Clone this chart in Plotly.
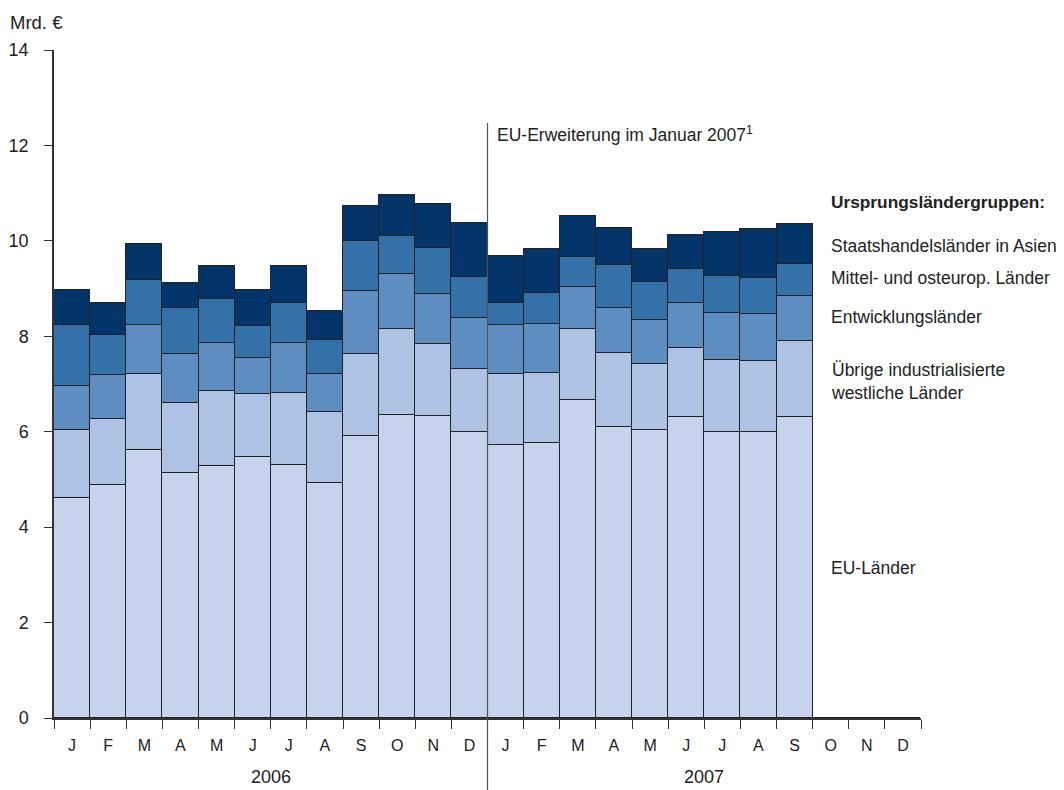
import plotly.graph_objects as go

months = ["J", "F", "M", "A", "M", "J", "J", "A", "S", "O", "N", "D",
          "J", "F", "M", "A", "M", "J", "J", "A", "S", "O", "N", "D"]
years = ["2006", "2007"]

eu_laender = [4.62, 4.88, 5.62, 5.13, 5.29, 5.48, 5.31, 4.93, 5.90, 6.35, 6.32, 5.99,
              5.72, 5.76, 6.66, 6.10, 6.04, 6.31, 6.00, 6.00, 6.31, 0, 0, 0]
uebrige = [1.42, 1.39, 1.60, 1.47, 1.57, 1.31, 1.51, 1.48, 1.72, 1.81, 1.51, 1.33,
           1.49, 1.47, 1.50, 1.56, 1.38, 1.45, 1.50, 1.49, 1.60, 0, 0, 0]
entwicklung = [0.92, 0.91, 1.01, 1.02, 0.99, 0.76, 1.04, 0.80, 1.33, 1.15, 1.05, 1.07,
               1.03, 1.02, 0.87, 0.93, 0.92, 0.93, 0.99, 0.98, 0.94, 0, 0, 0]
mittel_ost = [1.28, 0.85, 0.95, 0.97, 0.94, 0.67, 0.83, 0.71, 1.04, 0.79, 0.97, 0.86,
              0.45, 0.65, 0.63, 0.91, 0.79, 0.72, 0.77, 0.76, 0.67, 0, 0, 0]
asien = [0.72, 0.66, 0.76, 0.52, 0.69, 0.75, 0.79, 0.61, 0.75, 0.86, 0.93, 1.13,
         1.00, 0.93, 0.87, 0.77, 0.69, 0.72, 0.92, 1.01, 0.84, 0, 0, 0]

series_names = ["EU-Länder", "Übrige industrialisierte<br>westliche Länder",
                "Entwicklungsländer", "Mittel- und osteurop. Länder",
                "Staatshandelsländer in Asien"]
series_values = [eu_laender, uebrige, entwicklung, mittel_ost, asien]
colors = ["#C5D3EC", "#AEC3E3", "#5E8DC2", "#3371A8", "#03356A"]
legend_ypx = [568, 381, 317, 278, 246]

FONT = "Liberation Sans, Arial, sans-serif"
TXT = "#222222"

# page body has an 8px margin; work in reference-pixel coordinates
OFF = 8
W, H = 1064 - OFF, 790 - OFF
L, T = 54 - OFF, 50 - OFF
plot_w, plot_h = 867, 668
R = W - L - plot_w
B = H - T - plot_h

x = list(range(len(months)))

fig = go.Figure()
for name, vals, col in zip(series_names, series_values, colors):
    fig.add_trace(go.Bar(
        x=x, y=vals, name=name,
        marker=dict(color=col, line=dict(color="#222222", width=1.4)),
        width=1.0, hoverinfo="y+name"
    ))

def ypaper(py):
    return (718 - py) / plot_h

def xpaper(px):
    return (px - 54) / plot_w

annotations = []
for name, py in zip(series_names, legend_ypx):
    annotations.append(dict(x=xpaper(829), y=ypaper(py), xref="paper", yref="paper",
                            text=name, showarrow=False, xanchor="left", yanchor="middle",
                            align="left", font=dict(family=FONT, size=17.5, color=TXT)))
annotations.append(dict(x=xpaper(829), y=ypaper(202), xref="paper", yref="paper",
                        text="<b>Ursprungsländergruppen:</b>", showarrow=False,
                        xanchor="left", yanchor="middle",
                        font=dict(family=FONT, size=17.3, color=TXT)))
annotations.append(dict(x=xpaper(495), y=ypaper(134), xref="paper", yref="paper",
                        text="EU-Erweiterung im Januar 2007<sup>1</sup>", showarrow=False,
                        xanchor="left", yanchor="middle",
                        font=dict(family=FONT, size=17.5, color=TXT)))
annotations.append(dict(x=xpaper(8), y=ypaper(22), xref="paper", yref="paper",
                        text="Mrd. €", showarrow=False, xanchor="left", yanchor="middle",
                        font=dict(family=FONT, size=18.5, color=TXT)))
for i, yr in enumerate(years):
    annotations.append(dict(x=5.5 + 12 * i, y=ypaper(777), xref="x", yref="paper",
                            text=yr, showarrow=False, xanchor="center", yanchor="middle",
                            font=dict(family=FONT, size=18, color=TXT)))

shapes = [dict(type="line", xref="x", yref="paper", x0=11.5, x1=11.5,
               y0=ypaper(790), y1=ypaper(123), line=dict(color="#555555", width=1.2))]

fig.update_layout(
    width=W, height=H,
    margin=dict(l=L, r=R, t=T, b=B, autoexpand=False),
    barmode="stack", bargap=0,
    plot_bgcolor="white", paper_bgcolor="white",
    showlegend=False,
    font=dict(family=FONT, size=16, color=TXT),
    annotations=annotations, shapes=shapes,
    xaxis=dict(
        range=[-0.5, 23.5], tickmode="array", tickvals=x, ticktext=months,
        ticks="", ticklabelstandoff=12, showgrid=False, zeroline=False,
        showline=True, linecolor="#333333", linewidth=2,
        tickfont=dict(family=FONT, size=16, color=TXT),
        minor=dict(tickmode="array", tickvals=[i - 0.5 for i in range(25)],
                   ticks="outside", ticklen=9, tickcolor="#333333", tickwidth=1.2, showgrid=False),
    ),
    yaxis=dict(
        range=[0, 14], tickmode="array", tickvals=[0, 2, 4, 6, 8, 10, 12, 14],
        ticks="outside", ticklen=8, tickcolor="#333333", tickwidth=1.2,
        ticklabelstandoff=12, showgrid=False, zeroline=False,
        showline=True, linecolor="#333333", linewidth=1.5,
        tickfont=dict(family=FONT, size=18, color=TXT),
    ),
)

fig.write_html("out.html")
